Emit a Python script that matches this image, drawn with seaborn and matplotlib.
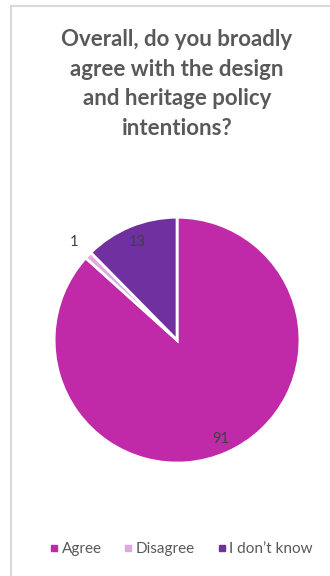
import numpy as np
import matplotlib
matplotlib.use('Agg')
import matplotlib.pyplot as plt
from matplotlib.lines import Line2D
from matplotlib.patches import Rectangle
import seaborn as sns

title = 'Overall, do you broadly\nagree with the design\nand heritage policy\nintentions?'
categories = ['Agree', 'Disagree', "I don\u2019t know"]
counts = [91, 1, 13]
colours = ['#C02AA8', '#DDA9E0', '#7030A0']


def draw_pie():
    sns.set_theme(style='white')
    plt.rcParams['font.family'] = ['Lato', 'DejaVu Sans']

    fig = plt.figure(figsize=(3.3, 5.76), dpi=100)
    fig.patches.append(Rectangle((11 / 330, -0.1), 1.2, 0.1 + 570 / 576,
                                 transform=fig.transFigure, fill=False,
                                 edgecolor='#D9D9D9', linewidth=1.5))

    fig.text(0.536, 0.949, title, ha='center', va='top', fontsize=16,
             fontweight='bold', color='#595959', linespacing=1.5)

    ax = fig.add_axes([0.164, 0.196, 0.745, 0.427])
    wedges, _ = ax.pie(counts, colors=sns.color_palette(colours), startangle=90,
                       counterclock=False,
                       wedgeprops={'edgecolor': 'white', 'linewidth': 2})
    ax.set_xlim(-1, 1)
    ax.set_ylim(-1, 1)
    ax.set_aspect('equal')

    # data labels, Excel "best fit" style
    label_dist = [0.88, 1.16, 0.86]
    for w, n, d in zip(wedges, counts, label_dist):
        mid = np.deg2rad((w.theta1 + w.theta2) / 2)
        ax.text(d * np.cos(mid), d * np.sin(mid), str(n), ha='center', va='center',
                fontsize=10.5, color='#404040')

    handles = [Line2D([], [], marker='s', linestyle='', color=c, markersize=4.5)
               for c in colours]
    fig.legend(handles, categories, loc='center', bbox_to_anchor=(0.55, 0.047),
               ncol=3, frameon=False, fontsize=11, handlelength=0.5,
               handletextpad=0.25, columnspacing=1.5, labelcolor='#595959')

    fig.savefig('out.png', dpi=100)


if __name__ == '__main__':
    draw_pie()
